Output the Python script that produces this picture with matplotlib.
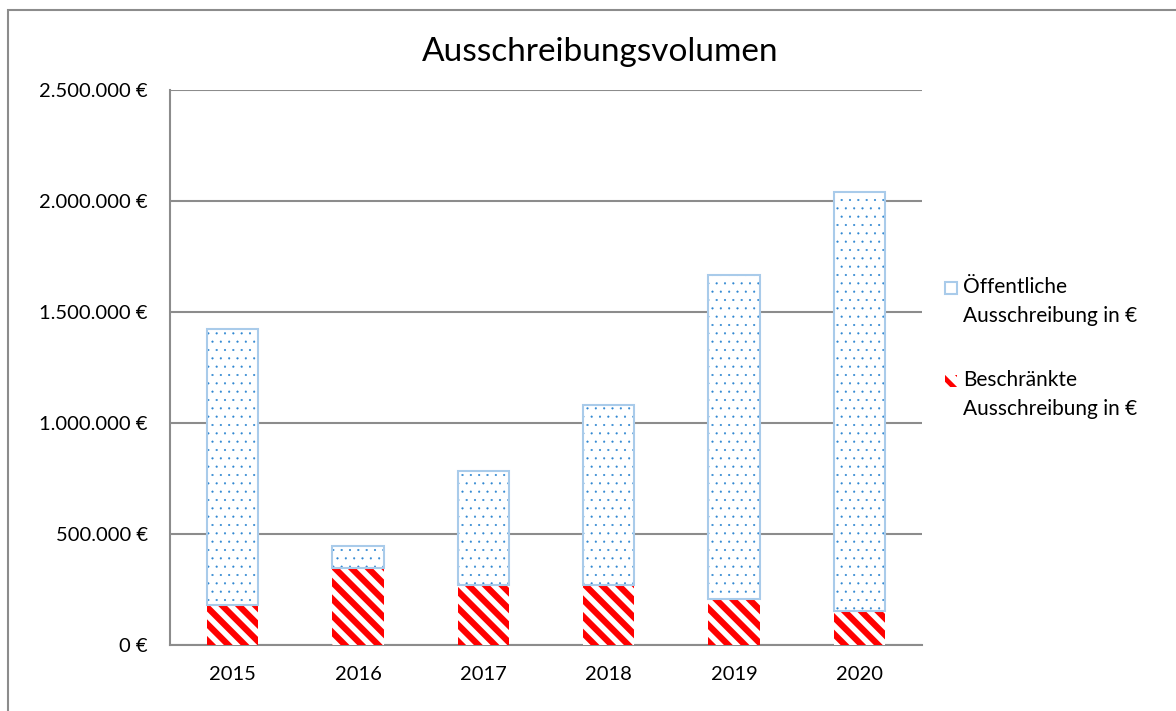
import matplotlib
matplotlib.use("Agg")
import matplotlib.pyplot as plt
from matplotlib.patches import Rectangle
from matplotlib.ticker import FuncFormatter

years = ["2015", "2016", "2017", "2018", "2019", "2020"]
beschraenkt = [180000, 345000, 272000, 272000, 205000, 155000]
gesamt = [1425000, 446000, 782000, 1080000, 1665000, 2040000]
oeffentlich = [g - b for g, b in zip(gesamt, beschraenkt)]
yticks = [0, 500000, 1000000, 1500000, 2000000, 2500000]
label_lines = [["Öffentliche", "Ausschreibung in €"], ["Beschränkte", "Ausschreibung in €"]]

plt.rcParams['font.family'] = ['Lato', 'DejaVu Sans']

W, H = 1176, 711
fig = plt.figure(figsize=(W / 100, H / 100), dpi=100)
ax = fig.add_axes([170 / W, 1 - 645 / H, (922 - 170) / W, (645 - 90) / H])

x = list(range(len(years)))
bw = 0.41
red = "#FF0000"
dot = "#2E86D1"
edge_blue = "#A9CBEA"
RED_HATCH = "\\\\"
DOT_HATCH = ".."

plt.rcParams['hatch.linewidth'] = 4.5
ax.bar(x, beschraenkt, bw, color="white", edgecolor=red, hatch=RED_HATCH, linewidth=0, zorder=3)
plt.rcParams['hatch.linewidth'] = 0.3
ax.bar(x, oeffentlich, bw, bottom=beschraenkt, color="white", edgecolor=dot, hatch=DOT_HATCH, linewidth=0, zorder=3)
ax.bar(x, oeffentlich, bw, bottom=beschraenkt, color="none", edgecolor=edge_blue, linewidth=1.5, zorder=4)

ax.set_xlim(-0.5, len(years) - 0.5)
ax.set_ylim(0, 2500000)
ax.set_yticks(yticks)
ax.yaxis.set_major_formatter(FuncFormatter(lambda v, p: f"{int(v):,}".replace(",", ".") + " €"))
ax.set_xticks(x)
ax.set_xticklabels(years)
ax.tick_params(axis='both', length=0, labelsize=14.5, colors="black")
ax.tick_params(axis='y', pad=16)
ax.tick_params(axis='x', pad=15)
ax.grid(axis='y', color="#8C8C8C", linewidth=1.5, zorder=0)
ax.set_axisbelow(True)
for s in ["top", "right"]:
    ax.spines[s].set_visible(False)
for s in ["left", "bottom"]:
    ax.spines[s].set_color("#8C8C8C")
    ax.spines[s].set_linewidth(1.5)

fig.text(600 / W, 1 - 52 / H, "Ausschreibungsvolumen", ha="center", va="center", fontsize=24)

# legend drawn manually in figure pixel coordinates
def fx(px):
    return px / W

def fy(py):
    return 1 - py / H

plt.rcParams['hatch.linewidth'] = 0.3
fig.add_artist(Rectangle((fx(945), fy(294)), 12 / W, 12 / H, transform=fig.transFigure,
                         facecolor="white", edgecolor=dot, hatch=".", linewidth=0))
fig.add_artist(Rectangle((fx(945), fy(294)), 12 / W, 12 / H, transform=fig.transFigure,
                         facecolor="none", edgecolor=edge_blue, linewidth=1.5))
plt.rcParams['hatch.linewidth'] = 3.5
fig.add_artist(Rectangle((fx(945), fy(387)), 12 / W, 12 / H, transform=fig.transFigure,
                         facecolor="white", edgecolor=red, hatch=RED_HATCH, linewidth=0))

line_y = [[287, 316], [380, 409]]
for lines, ys in zip(label_lines, line_y):
    for txt, yy in zip(lines, ys):
        fig.text(fx(963), fy(yy), txt, ha="left", va="center", fontsize=15)

fig.add_artist(Rectangle((8 / W, -0.01), 1.0, 1 - 10 / H + 0.01, transform=fig.transFigure,
                         fill=False, edgecolor="#8C8C8C", linewidth=1.5))

fig.savefig("out.png", dpi=100)
